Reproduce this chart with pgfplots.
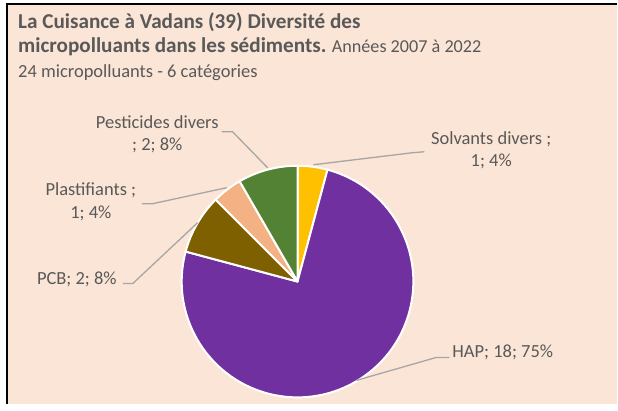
\documentclass[border=0pt]{standalone}
\usepackage{fontspec}
\setmainfont{Carlito}
\usepackage{pgfplots}
\usepackage{pgfplotstable}
\pgfplotsset{compat=1.18}

\definecolor{bgpeach}{HTML}{FBE5D6}
\definecolor{txtgray}{HTML}{595959}
\definecolor{leadgray}{HTML}{A6A6A6}
\definecolor{slc0}{HTML}{FFC000}
\definecolor{slc1}{HTML}{7030A0}
\definecolor{slc2}{HTML}{7F6000}
\definecolor{slc3}{HTML}{F4B183}
\definecolor{slc4}{HTML}{548235}

% slices, clockwise from 12 o'clock
\pgfplotstableread{
cat value
Solvants 1
HAP 18
PCB 2
Plastifiants 1
Pesticides 2
}\piedata

\newcommand\titlebf{\fontsize{21.2bp}{25bp}\selectfont\bfseries}
\newcommand\titlemd{\fontsize{18.2bp}{22bp}\selectfont\mdseries}

\begin{document}
\begin{tikzpicture}
% angles of each slice from the values
\def\total{0}
\pgfplotsforeachungrouped \i in {0,...,4}{%
  \pgfplotstablegetelem{\i}{value}\of\piedata
  \pgfmathsetmacro\total{\total+\pgfplotsretval}}
\def\cum{0}
\pgfplotsforeachungrouped \i in {0,...,4}{%
  \pgfplotstablegetelem{\i}{value}\of\piedata
  \let\v\pgfplotsretval
  \pgfmathsetmacro\a{90-360*\cum/\total}
  \pgfmathsetmacro\cum{\cum+\v}
  \pgfmathsetmacro\b{90-360*\cum/\total}
  \expandafter\xdef\csname angS\i\endcsname{\a}
  \expandafter\xdef\csname angE\i\endcsname{\b}}

\begin{axis}[
    hide axis,
    x=1bp, y=1bp,
    xmin=0, xmax=618, ymin=0, ymax=405,
    clip=false,
    font=\fontsize{18.5bp}{22bp}\selectfont,
]
% frame
\fill[white] (axis cs:0,0) rectangle (axis cs:618,405);
\fill[bgpeach] (axis cs:6.6,0) rectangle (axis cs:618,401.3);
\draw[black, line width=2bp] (axis cs:6.6,0) -- (axis cs:6.6,401.3) -- (axis cs:618,401.3);

% pie
\pgfplotsinvokeforeach{0,...,4}{
  \fill[slc#1, draw=white, line width=2bp, line join=round]
    (axis cs:298,123) -- ++(\csname angS#1\endcsname:116bp)
    arc[start angle=\csname angS#1\endcsname, end angle=\csname angE#1\endcsname, radius=116bp] -- cycle;
}

% leader lines
\draw[leadgray, line width=1.3bp] (axis cs:425,253) -- (axis cs:413,252) -- (axis cs:314,240);
\draw[leadgray, line width=1.3bp] (axis cs:450,47) -- (axis cs:437,47) -- (axis cs:357,24);
\draw[leadgray, line width=1.3bp] (axis cs:123,121) -- (axis cs:133,121) -- (axis cs:198,182);
\draw[leadgray, line width=1.3bp] (axis cs:142,201) -- (axis cs:153,201) -- (axis cs:227,217);
\draw[leadgray, line width=1.3bp] (axis cs:222,273) -- (axis cs:233,273) -- (axis cs:268,237);

% data labels
\begin{scope}[every node/.style={text=txtgray, inner sep=0pt}]
\node[anchor=base] at (axis cs:492,260) {Solvants divers ;};
\node[anchor=base] at (axis cs:492,238.3) {1; 4\%};
\node[anchor=base west] at (axis cs:453,47) {HAP; 18; 75\%};
\node[anchor=base east] at (axis cs:117,120) {PCB; 2; 8\%};
\node[anchor=base] at (axis cs:91,209) {Plastifiants ;};
\node[anchor=base] at (axis cs:91,186) {1; 4\%};
\node[anchor=base] at (axis cs:157.5,276.7) {Pesticides divers};
\node[anchor=base] at (axis cs:157.5,254.3) {; 2; 8\%};

% title
\node[anchor=base west] at (axis cs:18,376.7) {\titlebf La Cuisance à Vadans (39) Diversité des};
\node[anchor=base west] at (axis cs:18,352.3) {\titlebf micropolluants dans les sédiments.\titlemd{} Années 2007 à 2022};
\node[anchor=base west] at (axis cs:18,327) {24 micropolluants - 6 catégories};
\end{scope}
\end{axis}
\end{tikzpicture}
\end{document}
